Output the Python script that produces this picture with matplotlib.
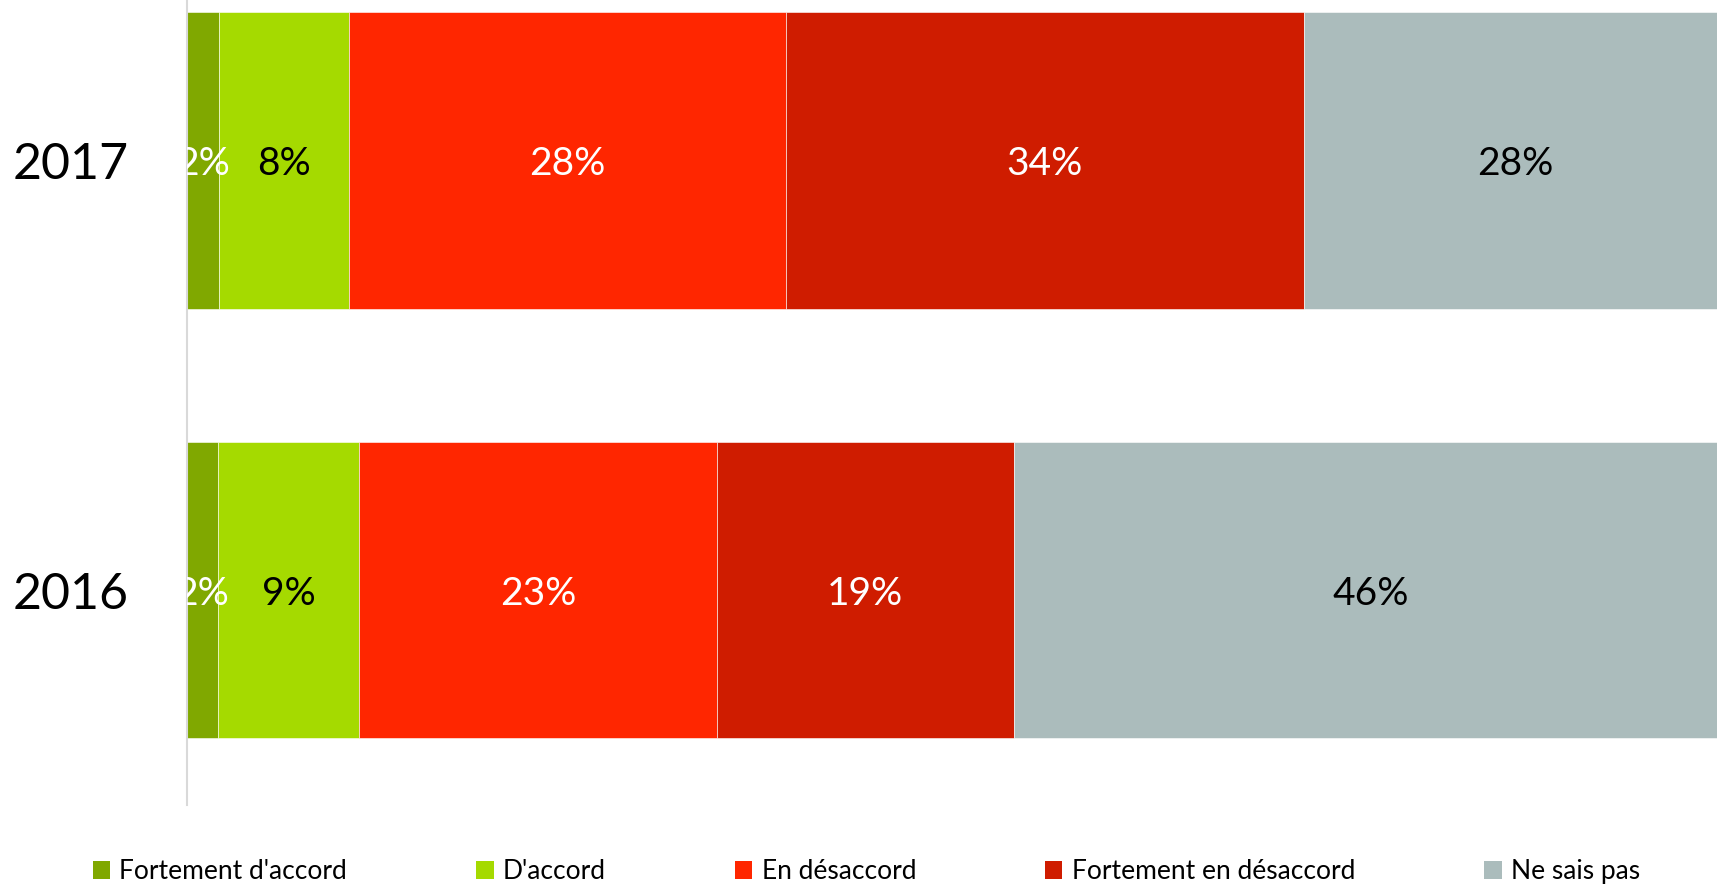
import matplotlib
matplotlib.use("Agg")
import matplotlib.pyplot as plt
from matplotlib.patches import Patch

plt.rcParams['font.family'] = ['Lato', 'DejaVu Sans']

years = ['2016', '2017']
categories = ["Fortement d'accord", "D'accord", "En désaccord",
              "Fortement en désaccord", "Ne sais pas"]
# valeurs (en %), ligne 2016 puis 2017
vals_2016 = [2.0, 9.2, 23.2, 19.3, 46.3]
vals_2017 = [2.1, 8.4, 28.4, 33.6, 27.5]
colors = ['#80A800', '#A5DA00', '#FF2600', '#CF1C00', '#ABBCBC']
text_colors = ['white', 'black', 'white', 'white', 'black']

fig = plt.figure(figsize=(17.17, 8.85), dpi=100)
ax = fig.add_axes([187 / 1717, 80 / 885, 1540 / 1717, 805 / 885])

rows = [vals_2016, vals_2017]
for y, vals in enumerate(rows):
    left = 0
    for i, v in enumerate(vals):
        ax.barh(y, v, left=left, height=0.69, color=colors[i],
                edgecolor='white', linewidth=0.4)
        ax.text(left + v / 2, y - 0.008, f'{v:.0f}%', ha='center', va='center',
                fontsize=28, color=text_colors[i], clip_on=True)
        left += v

ax.set_xlim(0, 100)
ax.set_ylim(-0.5, 1.373)
ax.set_yticks(range(len(years)))
ax.set_yticklabels(years, fontsize=36)
ax.tick_params(axis='y', length=0, pad=42)
ax.set_xticks([])
for s in ['top', 'right', 'bottom']:
    ax.spines[s].set_visible(False)
ax.spines['left'].set_color('#d9d9d9')
ax.spines['left'].set_linewidth(1.5)

handles = [Patch(facecolor=c, edgecolor='none') for c in colors]
fig.legend(handles, categories, loc='lower left',
           bbox_to_anchor=(93 / 1717, 0.001), ncol=5, frameon=False,
           fontsize=19, handlelength=0.65, handleheight=0.65,
           handletextpad=0.35, columnspacing=4.9, borderpad=0,
           borderaxespad=0)

fig.savefig('out.png', dpi=100)
